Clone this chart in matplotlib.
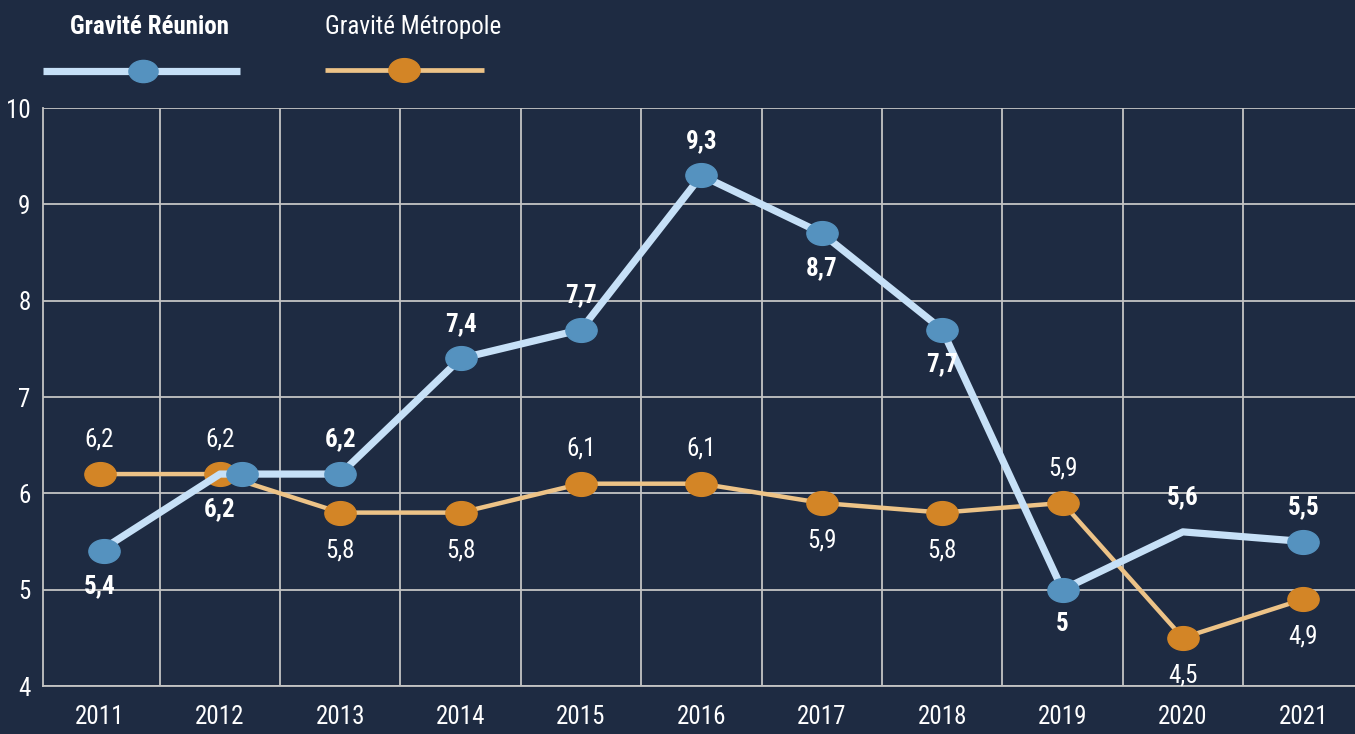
import matplotlib
matplotlib.use('Agg')
import matplotlib.pyplot as plt
from matplotlib import font_manager as fm
from matplotlib.path import Path
from matplotlib.transforms import Affine2D, ScaledTranslation
from matplotlib.lines import Line2D

# ---------------- data ----------------
years = [2011, 2012, 2013, 2014, 2015, 2016, 2017, 2018, 2019, 2020, 2021]
reunion = [5.4, 6.2, 6.2, 7.4, 7.7, 9.3, 8.7, 7.7, 5.0, 5.6, 5.5]
metropole = [6.2, 6.2, 5.8, 5.8, 6.1, 6.1, 5.9, 5.8, 5.9, 4.5, 4.9]
reunion_labels = ['5,4', '6,2', '6,2', '7,4', '7,7', '9,3', '8,7', '7,7', '5', '5,6', '5,5']
metropole_labels = ['6,2', '6,2', '5,8', '5,8', '6,1', '6,1', '5,9', '5,8', '5,9', '4,5', '4,9']
y_ticks = [4, 5, 6, 7, 8, 9, 10]
series_names = ['Gravité Réunion', 'Gravité Métropole']

# label placement (style)
reunion_side = ['below', 'below', 'above', 'above', 'above', 'above',
                'below', 'below', 'below', 'above', 'above']
metropole_side = ['above', 'above', 'below', 'below', 'above', 'above',
                  'below', 'below', 'above', 'below', 'below']
# small horizontal nudges of the Réunion markers, in pixels (style)
reunion_marker_nudge = [4, 22, 0, 0, 0, 0, 0, 0, 0, 0, 0]

# ---------------- fonts ----------------
available = {f.name for f in fm.fontManager.ttflist}
FONT = 'Liberation Sans'
for cand in ['Roboto Condensed', 'Open Sans Condensed', 'Noto Sans Condensed',
             'Liberation Sans Narrow', 'DejaVu Sans Condensed']:
    if cand in available:
        FONT = cand
        break
plt.rcParams['font.family'] = [FONT, 'DejaVu Sans']

# ---------------- style ----------------
BG = '#1e2b42'
GRID = '#c4c4c4'
TXT = '#ffffff'
BLUE_LINE = '#c6e0f7'
BLUE_MK = '#5592bf'
OR_LINE = '#edc387'
OR_MK = '#d38526'
FS = 18

W, H = 1355, 734
fig = plt.figure(figsize=(W / 100, H / 100), dpi=100, facecolor=BG)
ax = fig.add_axes([43 / W, 48 / H, 1 - 43 / W, 578 / H])
ax.set_facecolor(BG)

ellipse = Path.unit_circle().transformed(Affine2D().scale(1.0, 0.76))

ax.set_xlim(2010.53, 2021.43)
ax.set_ylim(4, 10)
ax.set_xticks(years)
ax.set_xticks([y + 0.5 for y in years[:-1]], minor=True)
ax.set_yticks(y_ticks)
ax.set_yticklabels([str(v) for v in y_ticks])
ax.grid(axis='y', which='major', color=GRID, lw=1.3, zorder=0)
ax.grid(axis='x', which='minor', color=GRID, lw=1.3, zorder=0)
ax.grid(axis='x', which='major', visible=False)
ax.tick_params(axis='both', which='both', length=0, colors=TXT, labelsize=FS)
ax.tick_params(axis='x', pad=13.5)
ax.tick_params(axis='y', pad=9)
for s in ['top', 'right']:
    ax.spines[s].set_visible(False)
for s in ['left', 'bottom']:
    ax.spines[s].set_color(GRID)
    ax.spines[s].set_linewidth(1.3)
ax.set_axisbelow(True)

# series
ax.plot(years, metropole, color=OR_LINE, lw=3.2, marker=ellipse, ms=22.5,
        mfc=OR_MK, mec=OR_MK, zorder=3, clip_on=False)
ax.plot(years, reunion, color=BLUE_LINE, lw=5.2, zorder=4, clip_on=False)
for x, v, nudge in zip(years, reunion, reunion_marker_nudge):
    if x == 2020:
        continue  # no marker drawn for 2020 in the original
    tr = ax.transData + ScaledTranslation(nudge / 100, 0, fig.dpi_scale_trans)
    ax.plot([x], [v], linestyle='none', marker=ellipse, ms=22.5, mfc=BLUE_MK,
            mec=BLUE_MK, zorder=5, clip_on=False, transform=tr)

# value labels
for x, v, lab, side in zip(years, reunion, reunion_labels, reunion_side):
    off = 25 if side == 'above' else -25
    ax.annotate(lab, (x, v), xytext=(0, off), textcoords='offset points',
                ha='center', va='center', fontsize=FS, fontweight='bold', color=TXT, zorder=6)
for x, v, lab, side in zip(years, metropole, metropole_labels, metropole_side):
    off = 25 if side == 'above' else -27
    ax.annotate(lab, (x, v), xytext=(0, off), textcoords='offset points',
                ha='center', va='center', fontsize=FS, color=TXT, zorder=6)

# legend (custom)
def fx(px):
    return px / W

def fy(py):
    return 1 - py / H

fig.add_artist(Line2D([fx(43), fx(240)], [fy(71), fy(71)], color=BLUE_LINE, lw=5.2,
                      solid_capstyle='butt', transform=fig.transFigure))
fig.add_artist(Line2D([fx(143)], [fy(71)], marker=ellipse, ms=21, mfc=BLUE_MK, mec=BLUE_MK,
                      transform=fig.transFigure))
fig.text(fx(150), fy(27), series_names[0], ha='center', va='center', fontsize=FS,
         fontweight='bold', color=TXT)

fig.add_artist(Line2D([fx(325), fx(484)], [fy(70), fy(70)], color=OR_LINE, lw=3.4,
                      solid_capstyle='butt', transform=fig.transFigure))
fig.add_artist(Line2D([fx(404)], [fy(70)], marker=ellipse, ms=22.5, mfc=OR_MK, mec=OR_MK,
                      transform=fig.transFigure))
fig.text(fx(413), fy(27), series_names[1], ha='center', va='center', fontsize=FS,
         color=TXT)

fig.savefig('out.png', dpi=100, facecolor=BG)
